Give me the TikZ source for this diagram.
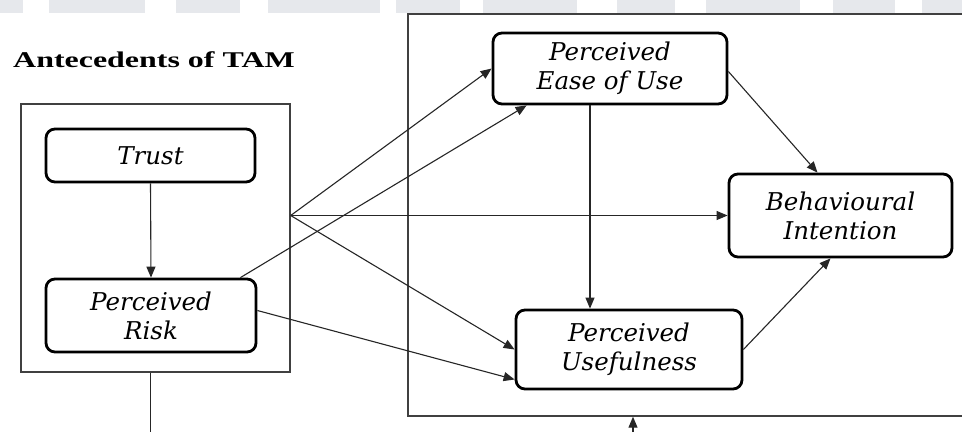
\documentclass[tikz,border=0pt]{standalone}
\usepackage{fontspec}
\setmainfont{Liberation Serif}
\newfontfamily\boxfont{DejaVu Serif}
\usetikzlibrary{arrows.meta}
\definecolor{bandgray}{HTML}{E6E8EC}
\tikzset{
  construct/.style={draw=black, line width=2.8pt, rounded corners=9pt, align=center,
    font=\boxfont\itshape\fontsize{24.5}{29}\selectfont, inner sep=0pt},
  frame/.style={draw=black!75, line width=1.4pt, inner sep=0pt},
  link/.style={draw=black!85, line width=1.1pt, -{Triangle[length=11pt,width=9pt]}},
  plain/.style={draw=black!85, line width=1.1pt},
  band/.style={fill=bandgray, draw=none}
}
\begin{document}
\begin{tikzpicture}[x=1pt,y=-1pt]
\useasboundingbox (0,0) rectangle (962,432);
\fill[white] (0,0) rectangle (962,432);
% faint banded strip along the top edge
\foreach \a/\b in {0/23,49/145,176/240,268/380,396/460,483/577,617/675,706/800,833/895,922/962}
  \path[band] (\a,0) rectangle (\b,12.5);

% title, set wide
\node[anchor=base west, font=\bfseries\fontsize{22.5}{26}\selectfont, inner sep=0pt] (title) at (13,67)
  {\scalebox{1.42}[1]{Antecedents of TAM}};

% outer frames
\node[frame, minimum width=269pt, minimum height=268pt] (ante) at (155.5,238) {};
\node[frame, minimum width=620pt, minimum height=402pt] (tam) at (718,215) {};

% constructs
\node[construct, minimum width=209pt, minimum height=53pt] (trust) at (150.5,155.5) {Trust};
\node[construct, minimum width=210pt, minimum height=73pt] (risk) at (151,315.5) {Perceived\\Risk};
\node[construct, minimum width=234pt, minimum height=71pt] (peou) at (610,68.5) {Perceived\\Ease of Use};
\node[construct, minimum width=226pt, minimum height=79pt] (pu) at (629,349.5) {Perceived\\Usefulness};
\node[construct, minimum width=223pt, minimum height=83pt] (bi) at (840.5,215.5) {Behavioural\\Intention};

% connection points
\coordinate (fan) at (ante.east |- bi.west);
\coordinate (eu) at ([xshift=-20pt]peou.south);
\coordinate (down) at (trust.south |- 0,432);
\coordinate (up) at (633,432);

% arrows
\draw[link] (trust.south) -- (risk.north);
\draw[link] (fan) -- (peou.west);
\draw[link] (fan) -- (bi.west);
\draw[link] (fan) -- (pu.west);
\draw[link] ([xshift=-17pt]risk.north east) -- ([xshift=35pt]peou.south west);
\draw[link] ([yshift=5pt]risk.east) -- ([yshift=-30pt]pu.west);
\draw[link] (eu) -- (eu |- pu.north);
\draw[link] ([yshift=-3pt]peou.east) -- ([xshift=-23pt]bi.north);
\draw[link] (pu.east) -- ([xshift=-10pt]bi.south);
\draw[plain] (trust.south |- ante.south) -- (down);
\draw[link] (up) -- (up |- tam.south);
\end{tikzpicture}
\end{document}
